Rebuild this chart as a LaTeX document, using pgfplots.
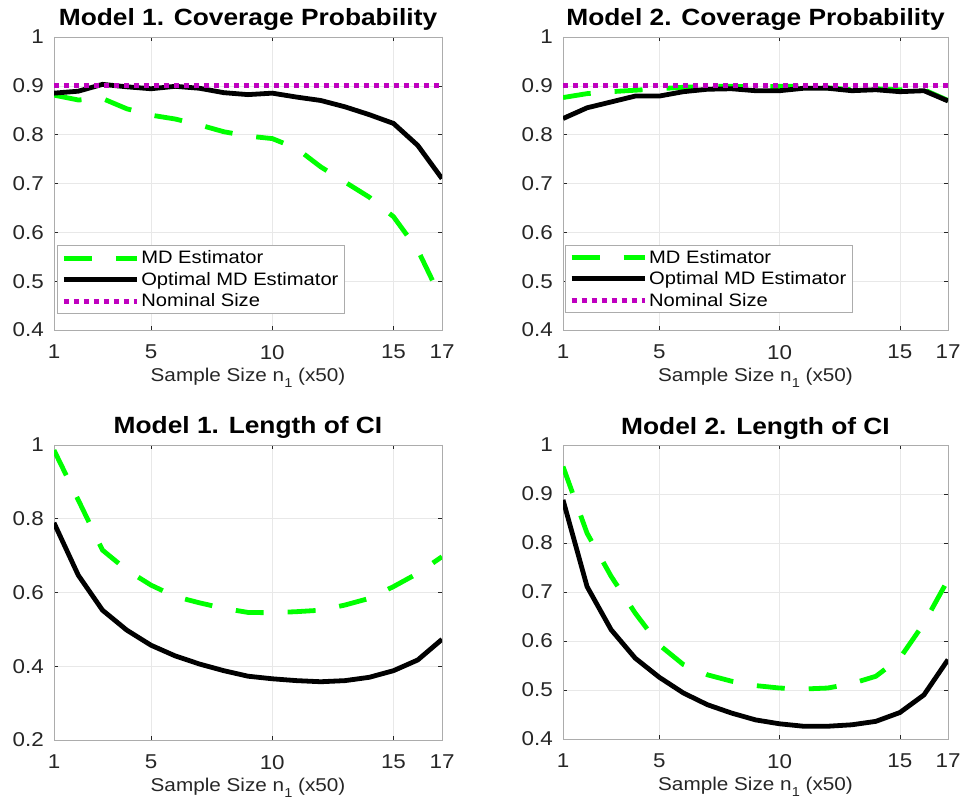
\documentclass[border=0pt]{standalone}
\usepackage{fontspec}
\setmainfont{Liberation Sans}[FakeStretch=1.12]
\usepackage{pgfplots}
\pgfplotsset{compat=1.18}
\definecolor{mgreen}{RGB}{0,255,0}
\definecolor{mmag}{RGB}{191,0,191}
\definecolor{tgray}{RGB}{38,38,38}
\pgfplotsset{
 mystyle/.style={
  scale only axis, anchor=south west,
  xmin=1, xmax=17, xtick={1,5,10,15,17},
  grid=major, major grid style={gray!18, line width=0.6pt},
  axis line style={gray!65, line width=0.8pt},
  tick align=inside, tick pos=both, major tick length=4pt,
  tick style={tgray, line width=0.6pt},
  /pgf/number format/assume math mode=true,
  ticklabel style={font=\fontsize{20}{20}\selectfont, text=tgray, inner sep=0pt},
  xticklabel style={yshift=-15pt},
  yticklabel style={xshift=-10pt},
  xlabel={Sample Size n\raisebox{-0.55ex}{\fontsize{13}{13}\selectfont 1} (x50)},
  xlabel style={font=\fontsize{18.5}{18.5}\selectfont, text=tgray, inner sep=0pt,
    at={(axis description cs:0.5,0)}, anchor=base, yshift=-52pt},
  title style={font=\bfseries\fontsize{23.5}{23.5}\selectfont, inner sep=0pt,
    at={(axis description cs:0.5,1)}, anchor=base, yshift=5pt},
  legend cell align=left,
  legend style={draw=gray!65, line width=0.8pt, fill=white, font=\fontsize{18}{18}\selectfont,
    inner xsep=4pt, inner ysep=3pt, row sep=3pt},
  legend image code/.code={\draw[##1] (0pt,0pt) -- (73pt,0pt);},
 },
 mdline/.style={mgreen, line width=4.8pt, dash pattern=on 28pt off 24pt},
 optline/.style={black, line width=4.8pt},
 nomline/.style={mmag, line width=4.8pt, dash pattern=on 5pt off 5pt},
}
\begin{document}
\begin{tikzpicture}
\useasboundingbox (0pt,0pt) rectangle (961pt,800pt);
% Top-left
\begin{axis}[mystyle, at={(54pt,470pt)}, width=388pt, height=293pt,
  ymin=0.4, ymax=1, ytick={0.4,0.5,0.6,0.7,0.8,0.9,1},
  title={Model 1. Coverage Probability},
  legend style={at={(axis description cs:0.008,0.055)}, anchor=south west}]
\addplot[mdline] coordinates {(1,0.881) (2,0.871) (3,0.874) (4,0.853) (5,0.840) (6,0.832) (7,0.820) (8,0.806) (9,0.797) (10,0.792) (11,0.772) (12,0.734) (13,0.703) (14,0.672) (15,0.632) (16,0.564) (17,0.461)};
\addlegendentry{MD Estimator}
\addplot[optline] coordinates {(1,0.885) (2,0.889) (3,0.903) (4,0.898) (5,0.894) (6,0.899) (7,0.895) (8,0.886) (9,0.882) (10,0.885) (11,0.877) (12,0.870) (13,0.857) (14,0.841) (15,0.823) (16,0.778) (17,0.710)};
\addlegendentry{Optimal MD Estimator}
\addplot[nomline] coordinates {(1,0.9) (17,0.9)};
\addlegendentry{Nominal Size}
\end{axis}
% Top-right
\begin{axis}[mystyle, at={(563pt,470pt)}, width=385pt, height=293pt,
  ymin=0.4, ymax=1, ytick={0.4,0.5,0.6,0.7,0.8,0.9,1},
  title={Model 2. Coverage Probability},
  legend style={at={(axis description cs:0.005,0.058)}, anchor=south west}]
\addplot[mdline] coordinates {(1,0.876) (2,0.884) (3,0.888) (4,0.891) (5,0.894) (6,0.897) (7,0.899) (8,0.899) (9,0.898) (10,0.899) (11,0.899) (12,0.896) (13,0.892) (14,0.894) (15,0.892) (16,0.892) (17,0.870)};
\addlegendentry{MD Estimator}
\addplot[optline] coordinates {(1,0.833) (2,0.855) (3,0.867) (4,0.879) (5,0.879) (6,0.888) (7,0.893) (8,0.894) (9,0.890) (10,0.890) (11,0.895) (12,0.895) (13,0.890) (14,0.892) (15,0.888) (16,0.890) (17,0.869)};
\addlegendentry{Optimal MD Estimator}
\addplot[nomline] coordinates {(1,0.9) (17,0.9)};
\addlegendentry{Nominal Size}
\end{axis}
% Bottom-left
\begin{axis}[mystyle, at={(54pt,60pt)}, width=388pt, height=295pt,
  ymin=0.2, ymax=1, ytick={0.2,0.4,0.6,0.8,1},
  title={Model 1. Length of CI}]
\addplot[mdline] coordinates {(1,0.986) (2,0.851) (3,0.715) (4,0.661) (5,0.620) (6,0.589) (7,0.572) (8,0.557) (9,0.546) (10,0.545) (11,0.548) (12,0.552) (13,0.566) (14,0.584) (15,0.616) (16,0.652) (17,0.697)};
\addplot[optline] coordinates {(1,0.789) (2,0.647) (3,0.552) (4,0.498) (5,0.457) (6,0.428) (7,0.406) (8,0.388) (9,0.373) (10,0.366) (11,0.361) (12,0.358) (13,0.361) (14,0.370) (15,0.388) (16,0.417) (17,0.473)};
\end{axis}
% Bottom-right
\begin{axis}[mystyle, at={(563pt,61pt)}, width=385pt, height=294pt,
  ymin=0.4, ymax=1, ytick={0.4,0.5,0.6,0.7,0.8,0.9,1},
  title={Model 2. Length of CI}]
\addplot[mdline] coordinates {(1,0.956) (2,0.820) (3,0.732) (4,0.657) (5,0.592) (6,0.552) (7,0.531) (8,0.518) (9,0.509) (10,0.504) (11,0.502) (12,0.504) (13,0.513) (14,0.528) (15,0.565) (16,0.636) (17,0.725)};
\addplot[optline] coordinates {(1,0.888) (2,0.711) (3,0.623) (4,0.565) (5,0.526) (6,0.494) (7,0.470) (8,0.453) (9,0.439) (10,0.431) (11,0.426) (12,0.426) (13,0.429) (14,0.436) (15,0.454) (16,0.490) (17,0.562)};
\end{axis}
\end{tikzpicture}
\end{document}
